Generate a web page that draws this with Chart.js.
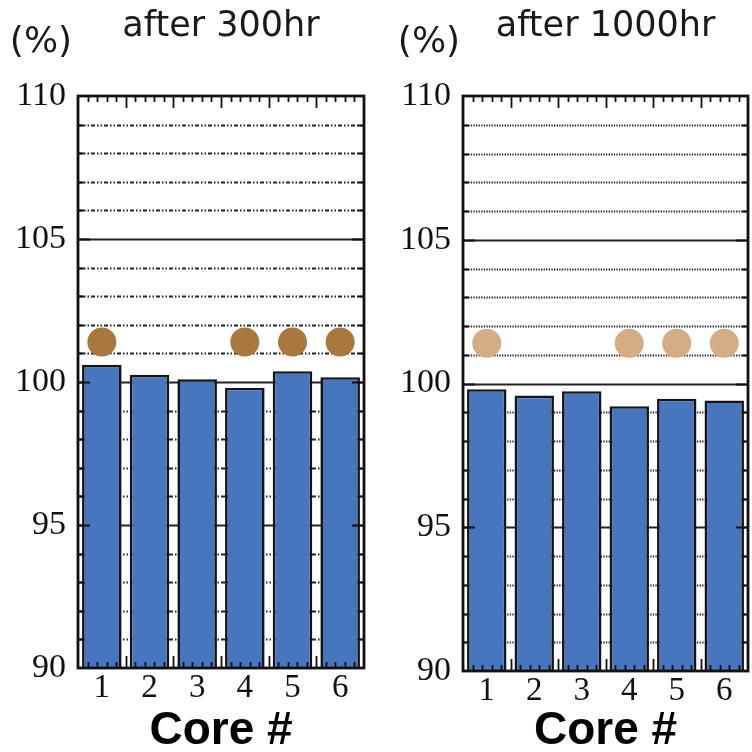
<!DOCTYPE html>
<html>
<head>
<meta charset="utf-8">
<script src="https://cdn.jsdelivr.net/npm/chart.js@4.4.0/dist/chart.umd.min.js"></script>
<style>
  html, body { margin: 0; padding: 0; background: #fff; }
  #wrap { position: relative; width: 752px; height: 752px; overflow: hidden; }
  canvas { position: absolute; top: 0; }
</style>
</head>
<body>
<div id="wrap">
  <canvas id="c300" width="376" height="752" style="left:0"></canvas>
  <canvas id="c1000" width="376" height="752" style="left:376px"></canvas>
</div>
<script>
let cores = ['1', '2', '3', '4', '5', '6'];
let yTicks = [90, 95, 100, 105, 110];
let bars300 = [100.6, 100.25, 100.1, 99.8, 100.38, 100.17];
let dots300 = [101.4, null, null, 101.4, 101.4, 101.4];
let bars1000 = [99.8, 99.58, 99.73, 99.21, 99.47, 99.41];
let dots1000 = [101.4, null, null, 101.4, 101.4, 101.4];

// gridlines behind the bars, frame + inside ticks on top
let framePlugin = {
  id: 'frame',
  beforeDatasetsDraw(chart, args, opts) {
    let ctx = chart.ctx, a = chart.chartArea, y = chart.scales.y;
    ctx.save();
    for (let v = y.min + 1; v < y.max; v++) {
      let py = Math.round(y.getPixelForValue(v)) + 0.5;
      ctx.beginPath();
      if (v % 5 == 0) {
        ctx.setLineDash([]);
        ctx.strokeStyle = '#222';
        ctx.lineWidth = 1.8;
      } else {
        ctx.setLineDash(opts.dash);
        ctx.strokeStyle = '#222';
        ctx.lineWidth = 1.8;
      }
      ctx.moveTo(a.left, py);
      ctx.lineTo(a.right, py);
      ctx.stroke();
    }
    ctx.restore();
  },
  afterDatasetsDraw(chart) {
    let ctx = chart.ctx, a = chart.chartArea, y = chart.scales.y, x = chart.scales.x;
    let step = x.getPixelForValue(1) - x.getPixelForValue(0);
    ctx.save();
    ctx.setLineDash([]);
    ctx.strokeStyle = '#111';
    ctx.lineWidth = 1.8;
    ctx.beginPath();
    for (let v = y.min + 1; v < y.max; v++) {
      let py = Math.round(y.getPixelForValue(v)) + 0.5;
      let len = v % 5 == 0 ? 12 : 6;
      ctx.moveTo(a.left, py); ctx.lineTo(a.left + len, py);
      ctx.moveTo(a.right, py); ctx.lineTo(a.right - len, py);
    }
    for (let i = 0; i < cores.length; i++) {
      let start = x.getPixelForValue(i) - step / 2;
      for (let k = 1; k <= 5; k++) {
        if (k == 5 && i == cores.length - 1) continue;
        let px = Math.round(start + step * k / 5) + 0.5;
        let len = k == 5 ? 12 : 6;
        ctx.moveTo(px, a.top); ctx.lineTo(px, a.top + len);
        ctx.moveTo(px, a.bottom); ctx.lineTo(px, a.bottom - len);
      }
    }
    ctx.stroke();
    ctx.lineWidth = 2.8;
    ctx.strokeRect(a.left, a.top, a.right - a.left, a.bottom - a.top);
    ctx.restore();
  },
  afterDraw(chart, args, opts) {
    let ctx = chart.ctx;
    ctx.save();
    ctx.font = '36px "DejaVu Sans"';
    ctx.fillStyle = '#1a1a1a';
    ctx.textAlign = 'center';
    ctx.textBaseline = 'middle';
    ctx.fillText('(%)', opts.unitX, 43);
    ctx.restore();
  }
};

function makeChart(id, title, bars, dots, dotColor, opt) {
  new Chart(id, {
    type: 'bar',
    data: {
      labels: cores,
      datasets: [{
        type: 'line',
        data: dots,
        showLine: false,
        pointRadius: 14.5,
        pointHoverRadius: 14.5,
        pointBackgroundColor: dotColor,
        pointBorderWidth: 0,
        order: 0
      }, {
        data: bars,
        backgroundColor: '#4876be',
        borderColor: '#151515',
        borderWidth: 2.6,
        borderSkipped: false,
        categoryPercentage: 1,
        barPercentage: 0.83,
        order: 1
      }]
    },
    options: {
      responsive: false,
      animation: false,
      events: [],
      layout: { autoPadding: false, padding: { left: 0, right: opt.padRight, top: 0, bottom: 0 } },
      plugins: {
        legend: { display: false },
        tooltip: { enabled: false },
        title: {
          display: true,
          text: title,
          fullSize: false,
          color: '#1a1a1a',
          font: { family: 'DejaVu Sans', size: 35, weight: 'normal', lineHeight: 1.2 },
          padding: { top: 6, bottom: 48 }
        },
        frame: { dash: opt.dash, unitX: opt.unitX }
      },
      scales: {
        x: {
          type: 'category',
          offset: true,
          grid: { display: false, drawTicks: false },
          border: { display: false },
          ticks: {
            color: '#111',
            font: { family: 'Liberation Serif', size: 33 },
            padding: 1,
            maxRotation: 0
          },
          title: {
            display: true,
            text: 'Core #',
            color: '#000',
            font: { family: 'Liberation Sans', size: 46, weight: 'bold', lineHeight: 0.9 },
            padding: 0
          },
          afterFit(s) { s.height = opt.xHeight; }
        },
        y: {
          min: 90,
          max: 110,
          grid: { display: false, drawTicks: false },
          border: { display: false },
          afterBuildTicks(s) { s.ticks = yTicks.map(v => ({ value: v })); },
          ticks: {
            color: '#111',
            font: { family: 'Liberation Serif', size: 34 },
            padding: 12
          },
          afterFit(s) { s.width = opt.yWidth; }
        }
      }
    },
    plugins: [framePlugin]
  });
}

makeChart('c300', 'after 300hr', bars300, dots300, '#a8783f',
  { padRight: 12, yWidth: 78, xHeight: 84, dash: [4, 2, 1.5, 2, 1.5, 2], unitX: 41 });
makeChart('c1000', 'after 1000hr', bars1000, dots1000, '#d4ad84',
  { padRight: 4, yWidth: 87, xHeight: 81, dash: [1.3, 1.3], unitX: 53 });
</script>
</body>
</html>
